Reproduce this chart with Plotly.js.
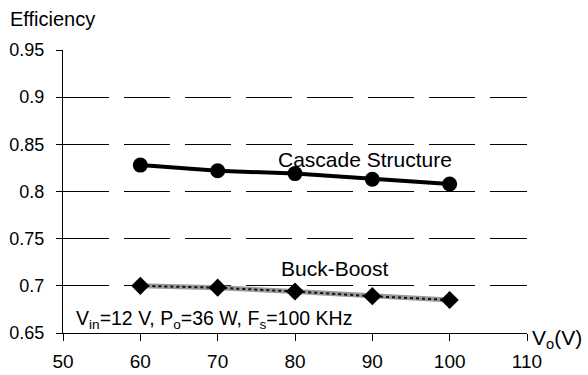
<!DOCTYPE html>
<html>
<head>
<meta charset="utf-8">
<script src="https://cdn.plot.ly/plotly-3.0.1.min.js"></script>
<style>html,body{margin:0;padding:0;background:#fff;}#chart{width:588px;height:375px;}</style>
</head>
<body>
<div id="chart"></div>
<script>
const vo = [60, 70, 80, 90, 100];
const cascade = [0.828, 0.822, 0.819, 0.813, 0.808];
const buckBoost = [0.700, 0.698, 0.694, 0.689, 0.685];
const xTicks = [50, 60, 70, 80, 90, 100, 110];
const yTicks = [0.65, 0.7, 0.75, 0.8, 0.85, 0.9, 0.95];
const yTickText = ['0.65', '0.7', '0.75', '0.8', '0.85', '0.9', '0.95'];

const fam = 'Liberation Sans, Arial, sans-serif';
const f = (s) => ({family: fam, size: s, color: '#000'});

const traces = [
  {x: vo, y: cascade, mode: 'lines+markers', name: 'Cascade Structure',
   line: {color: '#000', width: 4}, marker: {symbol: 'circle', size: 15, color: '#000'}},
  {x: vo, y: buckBoost, mode: 'lines', name: 'Buck-Boost bg',
   line: {color: '#9a9a9a', width: 5}, hoverinfo: 'skip'},
  {x: vo, y: buckBoost, mode: 'lines+markers', name: 'Buck-Boost',
   line: {color: '#111', width: 2, dash: 'dot'}, marker: {symbol: 'diamond', size: 14, color: '#000'}}
];

const layout = {
  width: 588, height: 375,
  margin: {l: 63, r: 61, t: 50, b: 42},
  paper_bgcolor: '#fff', plot_bgcolor: '#fff',
  showlegend: false,
  font: f(18),
  xaxis: {
    range: [50, 110], tickvals: xTicks, ticktext: xTicks.map(String),
    showgrid: false, zeroline: false,
    showline: true, linecolor: '#000', linewidth: 1,
    ticks: 'outside', ticklen: 7, tickcolor: '#000',
    ticklabelstandoff: 4,
    tickfont: f(19)
  },
  yaxis: {
    range: [0.65, 0.95], tickvals: yTicks, ticktext: yTickText,
    showgrid: true, gridcolor: '#000', gridwidth: 1, griddash: '46px,15px',
    zeroline: false,
    showline: true, linecolor: '#000', linewidth: 1,
    ticks: 'outside', ticklen: 6, tickcolor: '#000',
    ticklabelstandoff: 8,
    tickfont: f(18)
  },
  annotations: [
    {text: 'Efficiency', xref: 'paper', yref: 'paper', x: -0.1185, y: 1.11, xanchor: 'left', yanchor: 'middle', showarrow: false, font: f(20)},
    {text: 'V<sub>o</sub>(V)', xref: 'paper', yref: 'paper', x: 1.006, y: -0.02, xanchor: 'left', yanchor: 'middle', showarrow: false, font: f(21)},
    {text: 'Cascade Structure', xref: 'x', yref: 'y', x: 89, y: 0.834, xanchor: 'center', yanchor: 'middle', showarrow: false, font: f(21)},
    {text: 'Buck-Boost', xref: 'x', yref: 'y', x: 85.2, y: 0.718, xanchor: 'center', yanchor: 'middle', showarrow: false, font: f(21)},
    {text: 'V<sub>in</sub>=12 V, P<sub>o</sub>=36 W, F<sub>s</sub>=100 KHz', xref: 'x', yref: 'y', x: 51.4, y: 0.664, xanchor: 'left', yanchor: 'middle', showarrow: false, font: f(19.5)}
  ]
};

Plotly.newPlot('chart', traces, layout, {displayModeBar: false, staticPlot: true});
</script>
</body>
</html>
